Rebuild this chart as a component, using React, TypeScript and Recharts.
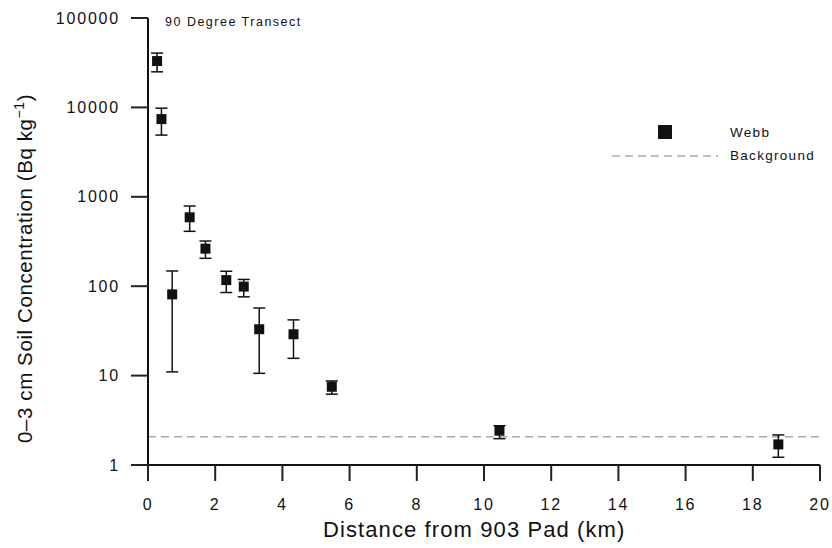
import {ErrorBar, ReferenceLine, Scatter, ScatterChart, XAxis, YAxis} from "recharts";

const INK = "#111111";
const FONT = "'Liberation Sans', Arial, Helvetica, sans-serif";

// distance from the 903 pad (km)
const distance = [0.27, 0.4, 0.72, 1.24, 1.71, 2.33, 2.85, 3.31, 4.33, 5.47, 10.46, 18.76];
// 0-3 cm soil concentration (Bq/kg)
const concentration = [33000, 7400, 81, 590, 263, 117, 99, 33, 29, 7.5, 2.42, 1.7];
const lowBound = [25000, 4900, 11, 411, 205, 85, 76, 10.6, 15.6, 6.2, 1.97, 1.22];
const highBound = [40500, 9800, 148, 789, 320, 147, 119, 57, 42, 8.7, 2.75, 2.17];
const background = 2.07;

const xMajorTicks = [0, 2, 4, 6, 8, 10, 12, 14, 16, 18, 20];
const xMinorStep = 0.25;
const yMajorTicks = [1, 10, 100, 1000, 10000, 100000];
const yMinorFactors = [2, 3, 4, 5, 6, 7, 8, 9];

const xMinorTicks: number[] = [];
for (let i = 0; i <= 20 / xMinorStep; i++) xMinorTicks.push(i * xMinorStep);
const yMinorTicks: number[] = [];
yMajorTicks.slice(0, -1).forEach(d => yMinorFactors.forEach(f => yMinorTicks.push(d * f)));

const webb = distance.map((x, i) => ({
  x,
  y: concentration[i],
  err: [concentration[i] - lowBound[i], highBound[i] - concentration[i]],
}));

const XLabel = (props: any) => {
  const {x, y, payload} = props;
  return <text x={x} y={y + 23} dy="0.35em" textAnchor="middle" fontSize={16}
               letterSpacing={1.8} fill={INK} fontFamily={FONT}>{payload.value}</text>
};

const YLabel = (props: any) => {
  const {x, y, payload} = props;
  return <text x={x - 11} y={y} dy="0.35em" textAnchor="end" fontSize={16}
               letterSpacing={1.8} fill={INK} fontFamily={FONT}>{payload.value}</text>
};

const SquareDot = (props: any) => {
  const {cx, cy} = props;
  return <rect x={cx - 5} y={cy - 5} width={10} height={10} fill={INK}/>
};

const tickStroke = {stroke: "#222222", strokeWidth: 2};

export default function App() {
  return <div style={{position: "absolute", left: 0, top: 0, width: 832, height: 548, fontFamily: FONT}}>
    <ScatterChart width={832} height={548} margin={{top: 18, right: 12, bottom: 0, left: 0}}>
      {/* minor ticks first so they sit on the plot edge */}
      <XAxis xAxisId="minor" type="number" domain={[0, 20]} ticks={xMinorTicks} interval={0}
             tick={false} tickLine={tickStroke} tickSize={7} height={0} axisLine={false} allowDataOverflow/>
      <XAxis
        xAxisId="main"
        type="number"
        dataKey="x"
        domain={[0, 20]}
        ticks={xMajorTicks}
        interval={0}
        tick={XLabel}
        tickLine={tickStroke}
        tickSize={16}
        tickMargin={0}
        height={83}
        axisLine={{stroke: INK, strokeWidth: 2}}
        allowDataOverflow
      />
      <YAxis yAxisId="minor" type="number" scale="log" domain={[1, 100000]} ticks={yMinorTicks} interval={0}
             tick={false} tickLine={tickStroke} tickSize={5} width={0} axisLine={false} allowDataOverflow/>
      <YAxis
        yAxisId="main"
        type="number"
        dataKey="y"
        scale="log"
        domain={[1, 100000]}
        ticks={yMajorTicks}
        interval={0}
        tick={YLabel}
        tickLine={tickStroke}
        tickSize={17}
        tickMargin={0}
        width={148}
        axisLine={{stroke: INK, strokeWidth: 2}}
        allowDataOverflow
      />
      <ReferenceLine xAxisId="main" yAxisId="main" y={background} stroke="#aaa" strokeWidth={1.5} strokeDasharray="8 5"/>
      <Scatter xAxisId="main" yAxisId="main" data={webb} fill={INK} shape={SquareDot} isAnimationActive={false}>
        <ErrorBar dataKey="err" direction="y" width={6} stroke={INK} strokeWidth={1.5}/>
      </Scatter>
    </ScatterChart>

    <svg style={{position: "absolute", left: 0, top: 0, pointerEvents: "none"}} width={832} height={548}>
      <text x={323} y={537} fontSize={22} letterSpacing={1.1} fill={INK} fontFamily={FONT}>
        Distance from 903 Pad (km)
      </text>
      <text transform="translate(32, 443) rotate(-90)" fontSize={20.5} letterSpacing={0.6} fill={INK} fontFamily={FONT}>
        0–3 cm Soil Concentration (Bq kg<tspan fontSize={14} dy={-8}>−1</tspan><tspan dy={8}>)</tspan>
      </text>
      <text x={165} y={26} fontSize={12.5} letterSpacing={1.5} fill={INK} fontFamily={FONT}>90 Degree Transect</text>
      <rect x={658} y={125} width={14} height={14} fill={INK}/>
      <text x={730} y={137} fontSize={13.5} letterSpacing={1.3} fill={INK} fontFamily={FONT}>Webb</text>
      <line x1={612} x2={718} y1={156} y2={156} stroke="#aaa" strokeWidth={1.5} strokeDasharray="8 5"/>
      <text x={730} y={160} fontSize={13.5} letterSpacing={1.3} fill={INK} fontFamily={FONT}>Background</text>
    </svg>
  </div>
}
